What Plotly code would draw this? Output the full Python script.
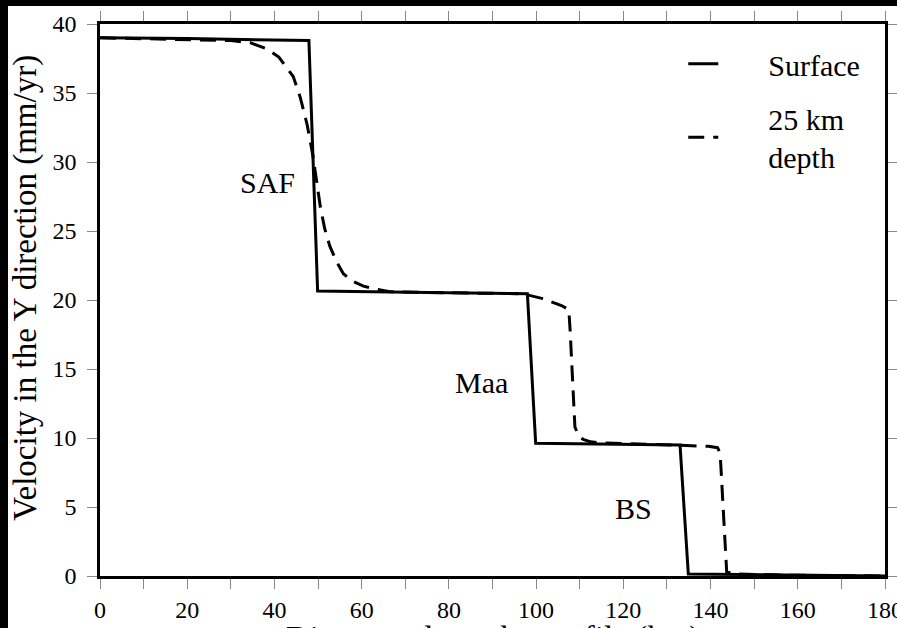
import plotly.graph_objects as go

# Surface velocity profile (km, mm/yr)
surf_x = [0, 20, 47.9, 49.9, 75, 98.0, 99.9, 120, 133.0, 134.9, 160, 180]
surf_y = [39.0, 38.95, 38.8, 20.65, 20.55, 20.45, 9.62, 9.55, 9.49, 0.15, 0.05, 0.0]

# 25 km depth velocity profile
deep_x = [0, 20, 30, 34.4, 38.2, 41, 44.3, 45.9, 47.5, 48.8, 49.7, 50.5, 51.5, 52.7,
          54.2, 55.8, 58, 60.4, 63, 66.5, 75, 97, 101.5, 105.8, 107.5, 107.8, 108.9,
          109.8, 110.8, 112.5, 114.6, 125, 133.5, 139.5, 141.6, 142.2, 143.7, 145.5, 160, 180]
deep_y = [39.0, 38.9, 38.8, 38.65, 38.2, 37.6, 36.2, 34.7, 32.7, 30.5, 28.5, 26.8, 25.2, 23.9,
          22.8, 21.9, 21.35, 21.0, 20.8, 20.6, 20.55, 20.45, 20.1, 19.6, 19.3, 17.8, 10.8,
          10.1, 9.9, 9.72, 9.66, 9.55, 9.47, 9.4, 9.3, 8.9, 0.3, 0.15, 0.05, 0.0]

labels = ["SAF", "Maa", "BS"]
label_x = [38.4, 87.5, 122.3]
label_y = [28.5, 14.0, 4.9]

x_ticks = [0, 20, 40, 60, 80, 100, 120, 140, 160, 180]
y_ticks = [0, 5, 10, 15, 20, 25, 30, 35, 40]

FONT = '"Liberation Serif", "Times New Roman", Times, "DejaVu Serif", serif'
NB = "\u00a0"

fig = go.Figure()
fig.add_trace(go.Scatter(x=surf_x, y=surf_y, mode="lines", name=NB * 6 + "Surface",
                         legendgroup="a",
                         line=dict(color="black", width=3)))
fig.add_trace(go.Scatter(x=deep_x, y=deep_y, mode="lines",
                         name=NB * 6 + "25 km<br>" + NB * 6 + "depth",
                         legendgroup="b",
                         line=dict(color="black", width=3, dash="16px,9px")))

for t, lx, ly in zip(labels, label_x, label_y):
    fig.add_annotation(x=lx, y=ly, text=t, showarrow=False,
                       font=dict(family=FONT, size=30, color="black"))

fig.add_annotation(xref="paper", yref="paper", x=-0.0945, y=0.522, xanchor="center", yanchor="middle",
                   text="Velocity in the Y direction (mm/yr)",
                   textangle=-90, showarrow=False, font=dict(family=FONT, size=33, color="black"))
fig.add_annotation(xref="paper", yref="paper", x=0.5, y=-0.076, xanchor="center", yanchor="top",
                   text="Distance along the profile (km)",
                   showarrow=False, font=dict(family=FONT, size=33, color="black"))

# black frame strips at the top and left of the picture
fig.add_shape(type="rect", xref="paper", yref="paper", x0=-0.3, x1=1.3, y0=1.0326, y1=1.3,
              fillcolor="black", line=dict(width=0), layer="below")
fig.add_shape(type="rect", xref="paper", yref="paper", x0=-0.3, x1=-0.1172, y0=-0.3, y1=1.3,
              fillcolor="black", line=dict(width=0), layer="below")

axis_common = dict(showgrid=False, zeroline=False, showline=True, linecolor="black", linewidth=2.5,
                   mirror="allticks", ticks="outside", ticklen=10, tickcolor="#888", tickwidth=1,
                   automargin=False, ticklabeloverflow="allow",
                   tickfont=dict(family=FONT, size=24, color="black"))

fig.update_xaxes(range=[0, 180], tickvals=x_ticks, ticktext=[str(v) for v in x_ticks],
                 minor=dict(dtick=10, tick0=0, ticks="outside", ticklen=10, tickcolor="#888", tickwidth=1),
                 **axis_common)
fig.update_yaxes(range=[0, 40], tickvals=y_ticks, ticktext=[str(v) for v in y_ticks],
                 ticklabelstandoff=6, **axis_common)

fig.update_layout(
    width=897, height=628,
    margin=dict(l=100, r=12, t=24, b=52, autoexpand=False),
    paper_bgcolor="white", plot_bgcolor="white",
    font=dict(family=FONT, color="black"),
    showlegend=True,
    legend=dict(x=0.743, y=0.975, xanchor="left", yanchor="top", bgcolor="rgba(0,0,0,0)",
                font=dict(family=FONT, size=30, color="black"), tracegroupgap=12,
                itemwidth=30),
)

fig.write_html("out.html", config={"displayModeBar": False},
               post_script="document.body.style.margin='0';document.body.style.padding='0';"
                           "document.body.style.overflow='hidden';")
